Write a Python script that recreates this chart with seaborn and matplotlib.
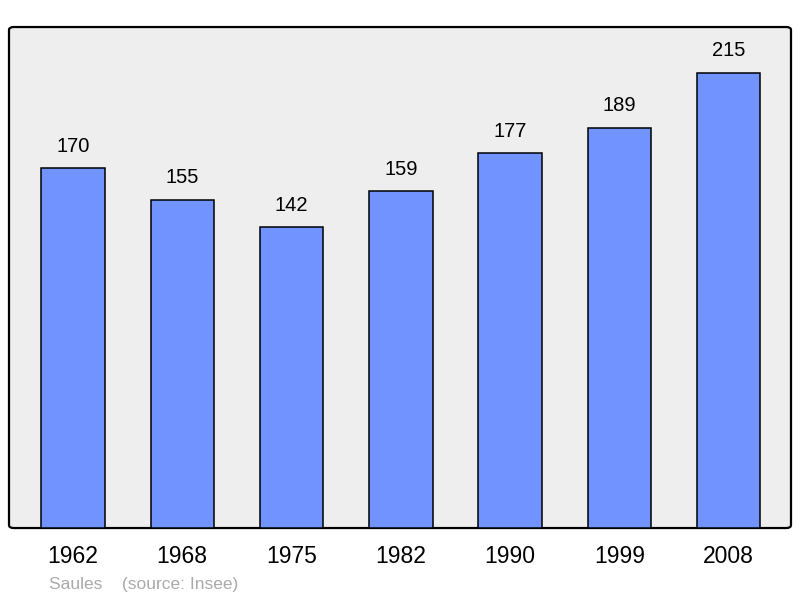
import matplotlib
matplotlib.use("Agg")
import matplotlib.pyplot as plt
import seaborn as sns
import pandas as pd
from matplotlib.patches import FancyBboxPatch

years = ["1962", "1968", "1975", "1982", "1990", "1999", "2008"]
population = [170, 155, 142, 159, 177, 189, 215]

sns.set_style("white")
plt.rcParams["font.family"] = ["Liberation Sans", "DejaVu Sans"]
plt.rcParams["text.color"] = "black"
plt.rcParams["xtick.color"] = "black"

df = pd.DataFrame({"year": years, "pop": population})

fig = plt.figure(figsize=(8, 5.98), dpi=100)
ax = fig.add_axes([0.01125, 0.117, 0.9775, 0.8378])
ax.set_facecolor("none")

bg = FancyBboxPatch((0, 0), 1, 1, boxstyle="round,pad=0,rounding_size=0.006",
                    transform=ax.transAxes, facecolor="#eeeeee",
                    edgecolor="black", linewidth=1.6, zorder=0, clip_on=False)
ax.add_patch(bg)

sns.barplot(data=df, x="year", y="pop", color="#7093ff", saturation=1,
            width=0.58, edgecolor="black", linewidth=1.1, ax=ax, zorder=2)

for i, v in enumerate(population):
    ax.text(i, v + 10.4, str(v), ha="center", va="center", fontsize=14.5,
            color="black")

ax.set_xlim(-0.585, 6.57)
ax.set_ylim(0, 236.7)
for s in ax.spines.values():
    s.set_visible(False)
ax.set_yticks([])
ax.set_xlabel("")
ax.set_ylabel("")
ax.tick_params(axis="x", length=0, labelsize=16.5, pad=12, labelcolor="black")

fig.text(49 / 800, 1 - 584 / 598, "Saules    (source: Insee)", color="#aaaaaa",
         fontsize=12.5, ha="left", va="center")

fig.savefig("out.png", dpi=100)
